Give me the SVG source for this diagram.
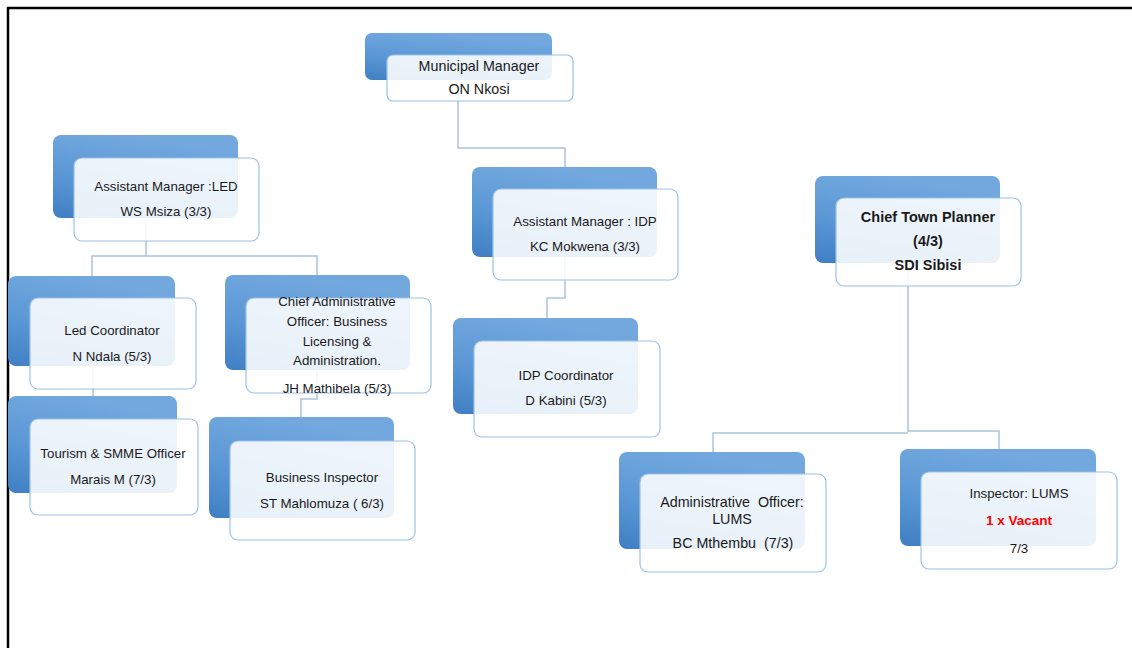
<svg xmlns="http://www.w3.org/2000/svg" width="1132" height="648" viewBox="0 0 1132 648">
<defs>
<linearGradient id="bg" x1="0" y1="1" x2="0.35" y2="0">
<stop offset="0" stop-color="#3f7fc3"/>
<stop offset="0.5" stop-color="#5c98d6"/>
<stop offset="1" stop-color="#72a8de"/>
</linearGradient>
<style>
.back{fill:url(#bg);}
.front{fill:#ffffff;fill-opacity:0.88;stroke:#9cc2e5;stroke-width:1.2;}
.conn{fill:none;stroke:#a9c3dc;stroke-width:1.5;}
.t{font-family:"Liberation Sans",Arial,sans-serif;font-size:13.3px;fill:#1a1a1a;text-anchor:middle;}
.a{font-family:"Liberation Sans",Arial,sans-serif;font-size:14.3px;fill:#1a1a1a;text-anchor:middle;}
.b{font-family:"Liberation Sans",Arial,sans-serif;font-size:14.5px;font-weight:bold;fill:#1a1a1a;text-anchor:middle;}
.red{font-family:"Liberation Sans",Arial,sans-serif;font-size:13.5px;font-weight:bold;fill:#ff0000;text-anchor:middle;}
</style>
</defs>
<rect width="1132" height="648" fill="#ffffff"/>
<path d="M8 648 V8 H1132" fill="none" stroke="#000000" stroke-width="2.5"/>
<g id="connectors">
<path class="conn" d="M458 80 V148 H565 V167"/>
<path class="conn" d="M146 218 V256 M92 276 V256 H317 V275"/>
<path class="conn" d="M93 366 V396"/>
<path class="conn" d="M317 370 V399 H301 V417"/>
<path class="conn" d="M565 257 V298 H547 V318"/>
<path class="conn" d="M908 263 V432 M713 452 V433 H908 M908 431 H999 V449"/>
</g>
<g id="municipal-manager">
<rect class="back" x="365" y="33" width="187" height="47" rx="7"/>
<rect class="front" x="387" y="55" width="186" height="46" rx="6"/>
<text class="a" x="479" y="71">Municipal Manager</text>
<text class="a" x="479" y="94">ON Nkosi</text>
</g>
<g id="assistant-manager-led">
<rect class="back" x="53" y="135" width="185" height="83" rx="8"/>
<rect class="front" x="74" y="158" width="185" height="83" rx="8"/>
<text class="t" x="166" y="191">Assistant Manager :LED</text>
<text class="t" x="166" y="216">WS Msiza (3/3)</text>
</g>
<g id="led-coordinator">
<rect class="back" x="8" y="276" width="167" height="90" rx="8"/>
<rect class="front" x="30" y="298" width="166" height="91" rx="8"/>
<text class="t" x="112" y="335">Led Coordinator</text>
<text class="t" x="112" y="361">N Ndala (5/3)</text>
</g>
<g id="chief-administrative-officer">
<rect class="back" x="225" y="275" width="185" height="95" rx="8"/>
<rect class="front" x="246" y="298" width="185" height="95" rx="8"/>
<text class="t" x="337" y="306">Chief Administrative</text>
<text class="t" x="337" y="326">Officer: Business</text>
<text class="t" x="337" y="346">Licensing &amp;</text>
<text class="t" x="337" y="365">Administration.</text>
<text class="t" x="337" y="393">JH Mathibela (5/3)</text>
</g>
<g id="tourism-smme-officer">
<rect class="back" x="8" y="396" width="169" height="97" rx="8"/>
<rect class="front" x="30" y="419" width="168" height="96" rx="8"/>
<text class="t" x="113" y="458">Tourism &amp; SMME Officer</text>
<text class="t" x="113" y="484">Marais M (7/3)</text>
</g>
<g id="business-inspector">
<rect class="back" x="209" y="417" width="185" height="101" rx="8"/>
<rect class="front" x="230" y="441" width="185" height="99" rx="8"/>
<text class="t" x="322" y="482">Business Inspector</text>
<text class="t" x="322" y="508">ST Mahlomuza ( 6/3)</text>
</g>
<g id="assistant-manager-idp">
<rect class="back" x="472" y="167" width="185" height="90" rx="8"/>
<rect class="front" x="493" y="189" width="185" height="91" rx="8"/>
<text class="t" x="585" y="226">Assistant Manager : IDP</text>
<text class="t" x="585" y="251">KC Mokwena (3/3)</text>
</g>
<g id="idp-coordinator">
<rect class="back" x="453" y="318" width="185" height="96" rx="8"/>
<rect class="front" x="474" y="341" width="186" height="96" rx="8"/>
<text class="t" x="566" y="380">IDP Coordinator</text>
<text class="t" x="566" y="405">D Kabini (5/3)</text>
</g>
<g id="chief-town-planner">
<rect class="back" x="815" y="176" width="185" height="87" rx="8"/>
<rect class="front" x="836" y="198" width="185" height="88" rx="8"/>
<text class="b" x="928" y="222">Chief Town Planner</text>
<text class="b" x="928" y="246">(4/3)</text>
<text class="b" x="928" y="270">SDI Sibisi</text>
</g>
<g id="administrative-officer-lums">
<rect class="back" x="619" y="452" width="186" height="97" rx="8"/>
<rect class="front" x="640" y="474" width="186" height="98" rx="8"/>
<text class="a" x="732" y="507" xml:space="preserve">Administrative  Officer:</text>
<text class="a" x="732" y="524">LUMS</text>
<text class="a" x="733" y="548" xml:space="preserve">BC Mthembu  (7/3)</text>
</g>
<g id="inspector-lums">
<rect class="back" x="900" y="449" width="196" height="97" rx="8"/>
<rect class="front" x="921" y="472" width="196" height="97" rx="8"/>
<text class="t" x="1019" y="498">Inspector: LUMS</text>
<text class="red" x="1019" y="525">1 x Vacant</text>
<text class="t" x="1019" y="553">7/3</text>
</g>
</svg>
